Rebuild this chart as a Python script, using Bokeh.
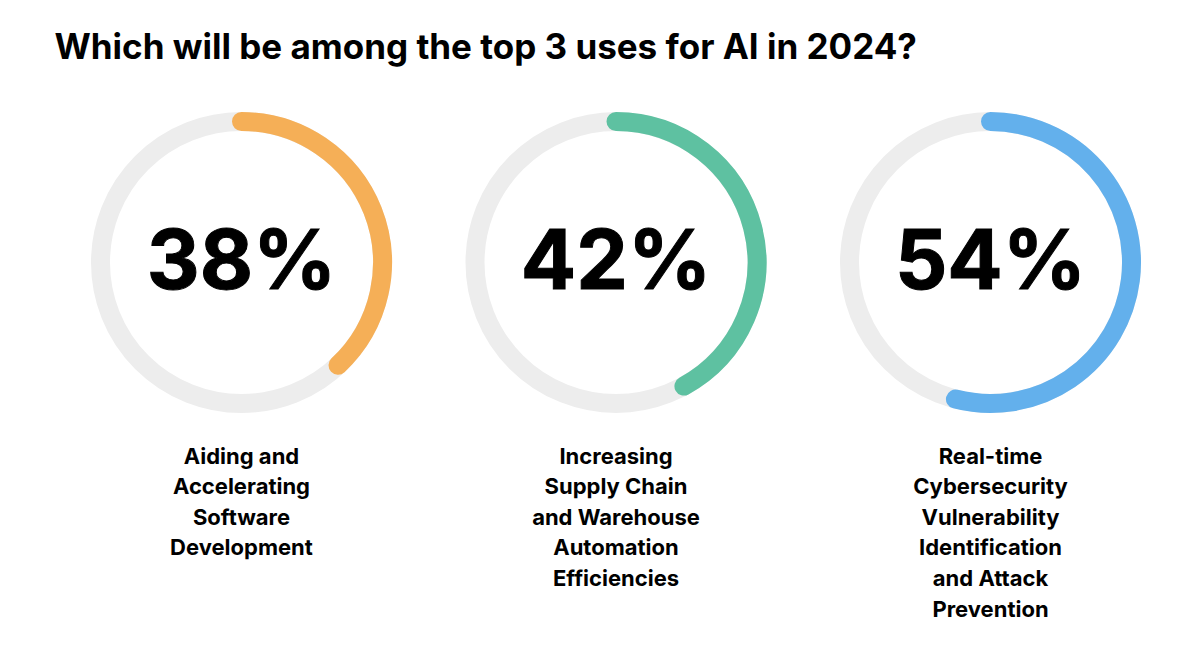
import math
from bokeh.plotting import figure
from bokeh.models import Range1d
from bokeh.core.properties import value
from bokeh.embed import file_html
from bokeh.resources import INLINE

title = "Which will be among the top 3 uses for AI in 2024?"
categories = [
    ["Aiding and", "Accelerating", "Software", "Development"],
    ["Increasing", "Supply Chain", "and Warehouse", "Automation", "Efficiencies"],
    ["Real-time", "Cybersecurity", "Vulnerability", "Identification", "and Attack", "Prevention"],
]
values = [38, 42, 54]
colors = ["#F5AF57", "#5EC1A1", "#63B0EC"]

W, H = 1184, 639
p = figure(width=W, height=H, output_backend="svg", toolbar_location=None,
           x_range=Range1d(0, W), y_range=Range1d(0, H), min_border=0)
p.axis.visible = False
p.grid.visible = False
p.outline_line_color = None
p.background_fill_color = "white"
p.border_fill_color = "white"

def sy(y):  # page y -> data y
    return H - y

def sx(x):
    return x

FONT = value("Inter")

p.text(x=[sx(54)], y=[sy(45)], text=[title], text_font=FONT, text_font_style="bold",
       text_font_size="35px", text_baseline="middle", text_align="left", text_color="#000000")

centers = [241, 615.5, 990]
cy = 262
R = 141
for i, (v, c, lab) in enumerate(zip(values, colors, categories)):
    cx = centers[i]
    p.arc(x=[sx(cx)], y=[sy(cy)], radius=R, radius_units="screen", start_angle=0,
          end_angle=2 * math.pi, line_color="#EDEDED", line_width=19)
    p.arc(x=[sx(cx)], y=[sy(cy)], radius=R, radius_units="screen",
          start_angle=math.pi / 2, end_angle=math.pi / 2 - 2 * math.pi * v / 100,
          direction="clock", line_color=c, line_width=19, line_cap="round")
    p.text(x=[sx(cx)], y=[sy(cy - 3)], text=[f"{v}%"], text_font=FONT, text_font_style="bold",
           text_font_size="82px", text_align="center", text_baseline="middle", text_color="#000000",
           text_outline_color="#000000")
    for j, line in enumerate(lab):
        p.text(x=[sx(cx)], y=[sy(455 + j * 30.6)], text=[line], text_font=FONT,
               text_font_style="bold", text_font_size="22px", text_align="center",
               text_baseline="middle", text_color="#000000")

open("out.html", "w").write(file_html(p, INLINE))
